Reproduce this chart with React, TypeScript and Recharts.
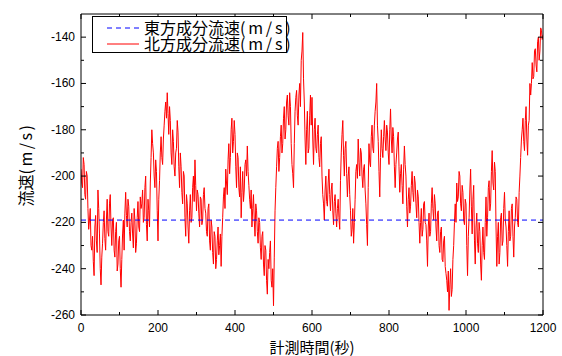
import React from 'react';
import { LineChart, Line, XAxis, YAxis, Legend } from 'recharts';

// Sampling interval of the read series (seconds)
const SAMPLE_INTERVAL = 4;

// 北方成分流速 (m/s), read at t = 0, 4, 8, ... 1200 s
const NORTH_VALUES: number[] = [
  -197, -205, -195, -210, -200, -223, -214, -232, -237, -222, -228, -206, -225, -247, -229, -215, -232, -210, -226, -208, -230, -218, -235, -220, -238,
  -226, -248, -225, -232, -207, -222, -213, -228, -216, -231, -219, -229, -211, -224, -214, -206, -218, -200, -228, -215, -203, -180, -190, -205, -198,
  -228, -202, -183, -195, -178, -168, -164, -182, -176, -195, -185, -200, -188, -181, -205, -196, -212, -200, -226, -212, -229, -208, -218, -200, -193,
  -215, -208, -222, -210, -219, -205, -216, -226, -212, -232, -222, -238, -226, -236, -222, -230, -239, -218, -205, -197, -208, -186, -192, -175, -185,
  -182, -205, -192, -209, -218, -198, -206, -193, -187, -204, -214, -222, -208, -226, -215, -229, -220, -236, -224, -243, -232, -251, -240, -228, -248,
  -256, -215, -196, -185, -192, -178, -186, -170, -180, -165, -178, -170, -195, -205, -172, -163, -178, -160, -150, -138, -168, -195, -172, -188, -165,
  -166, -195, -175, -190, -178, -196, -183, -208, -219, -200, -213, -197, -215, -203, -221, -208, -222, -210, -223, -190, -176, -200, -185, -209, -196,
  -215, -223, -229, -210, -195, -184, -200, -190, -205, -195, -212, -230, -186, -196, -178, -190, -172, -160, -185, -209, -180, -192, -176, -189, -181,
  -195, -171, -190, -183, -205, -190, -181, -207, -195, -212, -187, -200, -222, -205, -213, -198, -211, -203, -218, -209, -229, -214, -223, -211, -221,
  -239, -216, -224, -205, -219, -212, -228, -215, -233, -222, -237, -226, -242, -250, -258, -240, -249, -230, -212, -203, -209, -200, -215, -207, -221,
  -212, -243, -218, -197, -225, -204, -238, -216, -233, -224, -245, -222, -236, -209, -218, -202, -212, -189, -206, -198, -239, -220, -233, -216, -228,
  -207, -222, -239, -215, -226, -212, -235, -218, -210, -222, -200, -184, -175, -189, -170, -191, -176, -165, -151, -157, -145, -155, -140, -146, -137, -139,
];

// 北方成分流速 (m/s), read at the in-between instants t = 2, 6, 10, ... 1198 s
const NORTH_MID_VALUES: number[] = [
  -203, -192, -208, -198, -214, -219, -230, -226, -243, -217, -233, -214, -240, -235, -220, -227, -219, -224, -212, -222, -219, -232, -224, -241, -228,
  -240, -236, -219, -216, -217, -210, -224, -220, -225, -214, -233, -218, -222, -209, -212, -220, -205, -221, -210, -222, -192, -186, -200, -193, -215,
  -210, -190, -192, -184, -172, -175, -173, -170, -190, -180, -196, -190, -176, -196, -190, -207, -198, -218, -208, -222, -215, -220, -205, -211, -204,
  -206, -216, -209, -221, -208, -214, -224, -214, -228, -219, -233, -224, -240, -228, -234, -225, -226, -209, -214, -203, -193, -199, -180, -190, -176,
  -196, -190, -205, -196, -207, -211, -195, -200, -198, -210, -206, -214, -219, -212, -224, -218, -231, -226, -238, -230, -245, -236, -233, -245, -240,
  -235, -205, -188, -198, -183, -190, -175, -184, -168, -174, -164, -186, -199, -186, -166, -174, -165, -170, -146, -158, -184, -180, -190, -174, -178,
  -184, -180, -188, -182, -192, -186, -200, -212, -206, -211, -203, -208, -206, -215, -211, -216, -214, -218, -202, -182, -191, -188, -199, -200, -208,
  -226, -214, -220, -198, -201, -194, -188, -200, -197, -206, -221, -205, -194, -183, -188, -178, -168, -178, -198, -192, -188, -183, -184, -178, -190,
  -180, -184, -179, -196, -195, -184, -196, -199, -204, -197, -195, -213, -210, -216, -204, -207, -200, -212, -206, -220, -220, -226, -212, -220, -228,
  -222, -226, -212, -214, -208, -222, -216, -230, -224, -236, -228, -239, -245, -241, -247, -252, -236, -220, -220, -211, -198, -212, -204, -219, -210,
  -230, -226, -206, -213, -210, -228, -222, -229, -220, -238, -230, -233, -220, -226, -205, -215, -198, -203, -194, -222, -226, -238, -218, -230, -214,
  -219, -230, -224, -228, -214, -226, -222, -209, -220, -207, -192, -180, -185, -176, -184, -178, -160, -160, -158, -146, -152, -142, -150, -136, -141,
];

// 東方成分流速 (m/s): constant level
const EAST_TIMES = [0, 1200];
const EAST_VALUES = [-219, -219];

const X_TICKS = [0, 100, 200, 300, 400, 500, 600, 700, 800, 900, 1000, 1100, 1200];
const X_LABEL_STEP = 200;
const Y_TICKS = [-260, -250, -240, -230, -220, -210, -200, -190, -180, -170, -160, -150, -140];
const Y_LABEL_STEP = 20;
const X_DOMAIN: [number, number] = [0, 1200];
const Y_DOMAIN: [number, number] = [-260, -130];

const SERIES_NAMES = ['東方成分流速', '北方成分流速'];
const UNIT = '(m/s)';
const X_TITLE = '計測時間(秒)';
const Y_TITLE = '流速';

const northData: { t: number; north: number }[] = [];
NORTH_VALUES.forEach((v, i) => {
  northData.push({ t: i * SAMPLE_INTERVAL, north: v });
  if (i < NORTH_MID_VALUES.length) {
    northData.push({ t: i * SAMPLE_INTERVAL + SAMPLE_INTERVAL / 2, north: NORTH_MID_VALUES[i] });
  }
});
const eastData = EAST_TIMES.map((t, i) => ({ t, east: EAST_VALUES[i] }));

const NUM_FONT = '"Liberation Sans", Arial, sans-serif';
const CJK_FONT = '"Noto Sans CJK JP", "Noto Sans CJK SC", sans-serif';

const BottomTick = (props: any) => {
  const { x, y, payload } = props;
  const major = payload.value % X_LABEL_STEP === 0;
  return (
    <g>
      <line x1={x} x2={x} y1={y} y2={y - (major ? 5 : 3)} stroke="#000" strokeWidth={1} />
      {major && (
        <text x={x} y={y + 17} textAnchor="middle" fontSize={12} fontFamily={NUM_FONT} fill="#000">
          {payload.value}
        </text>
      )}
    </g>
  );
};

const TopTick = (props: any) => {
  const { x, y, payload } = props;
  const major = payload.value % X_LABEL_STEP === 0;
  return <line x1={x} x2={x} y1={y} y2={y + (major ? 5 : 3)} stroke="#000" strokeWidth={1} />;
};

const LeftTick = (props: any) => {
  const { x, y, payload } = props;
  const major = payload.value % Y_LABEL_STEP === 0;
  return (
    <g>
      <line x1={x} x2={x + (major ? 5 : 3)} y1={y} y2={y} stroke="#000" strokeWidth={1} />
      {major && (
        <text x={x - 6} y={y + 4} textAnchor="end" fontSize={12} fontFamily={NUM_FONT} fill="#000">
          {payload.value}
        </text>
      )}
    </g>
  );
};

const RightTick = (props: any) => {
  const { x, y, payload } = props;
  const major = payload.value % Y_LABEL_STEP === 0;
  return <line x1={x} x2={x - (major ? 5 : 3)} y1={y} y2={y} stroke="#000" strokeWidth={1} />;
};

const XTitle = (props: any) => {
  const vb = props.viewBox || {};
  return (
    <text
      x={vb.x + vb.width / 2}
      y={346}
      textAnchor="middle"
      dominantBaseline="central"
      fontSize={15}
      fontFamily={CJK_FONT}
      fill="#000"
    >
      {X_TITLE}
    </text>
  );
};

const YTitle = (props: any) => {
  const vb = props.viewBox || {};
  const cx = 25;
  const cy = vb.y + vb.height / 2;
  return (
    <text
      x={cx}
      y={cy}
      transform={`rotate(-90 ${cx} ${cy})`}
      textAnchor="middle"
      dominantBaseline="central"
      fontSize={16}
      fontFamily={CJK_FONT}
      fill="#000"
    >
      {Y_TITLE}
      <tspan letterSpacing={2.5}>{UNIT}</tspan>
    </text>
  );
};

const LegendBox = () => {
  const rows = [
    { name: SERIES_NAMES[0], color: '#0000ff', dash: '5 4' },
    { name: SERIES_NAMES[1], color: '#ff0000', dash: undefined },
  ];
  return (
    <div
      style={{
        width: 195,
        height: 37,
        border: '1px solid #000',
        background: '#fff',
        boxSizing: 'border-box',
        position: 'relative',
        fontFamily: CJK_FONT,
        fontSize: 16,
        color: '#000',
      }}
    >
      {rows.map((r, i) => (
        <div
          key={r.name}
          style={{
            position: 'absolute',
            left: 0,
            top: i * 16 + 3,
            height: 15,
            display: 'flex',
            alignItems: 'center',
            whiteSpace: 'nowrap',
            lineHeight: '15px',
            overflow: 'visible',
          }}
        >
          <svg width={51} height={15} style={{ display: 'block' }}>
            <line x1={14} x2={46} y1={8} y2={8} stroke={r.color} strokeWidth={1} strokeDasharray={r.dash} />
          </svg>
          <span>
            {r.name}
            <span style={{ letterSpacing: '2.8px' }}>{UNIT}</span>
          </span>
        </div>
      ))}
    </div>
  );
};

export default function App() {
  return (
    <div style={{ position: 'absolute', left: 0, top: 0, background: '#fff' }}>
      <LineChart width={562} height={356} data={northData} margin={{ top: 0, right: 0, bottom: 0, left: 0 }}>
        <XAxis
          dataKey="t"
          type="number"
          domain={X_DOMAIN}
          allowDataOverflow
          ticks={X_TICKS}
          interval={0}
          height={41}
          tickSize={0}
          tickMargin={0}
          tickLine={false}
          tick={<BottomTick />}
          axisLine={{ stroke: '#000', strokeWidth: 1 }}
          label={<XTitle />}
        />
        <XAxis
          xAxisId="top"
          orientation="top"
          dataKey="t"
          type="number"
          domain={X_DOMAIN}
          allowDataOverflow
          ticks={X_TICKS}
          interval={0}
          height={14}
          tickSize={0}
          tickMargin={0}
          tickLine={false}
          tick={<TopTick />}
          axisLine={{ stroke: '#000', strokeWidth: 1 }}
        />
        <YAxis
          type="number"
          domain={Y_DOMAIN}
          allowDataOverflow
          ticks={Y_TICKS}
          interval={0}
          width={81}
          tickSize={0}
          tickMargin={0}
          tickLine={false}
          tick={<LeftTick />}
          axisLine={{ stroke: '#000', strokeWidth: 1 }}
          label={<YTitle />}
        />
        <YAxis
          yAxisId="right"
          orientation="right"
          type="number"
          domain={Y_DOMAIN}
          allowDataOverflow
          ticks={Y_TICKS}
          interval={0}
          width={19}
          tickSize={0}
          tickMargin={0}
          tickLine={false}
          tick={<RightTick />}
          axisLine={{ stroke: '#000', strokeWidth: 1 }}
        />
        <Legend
          layout="horizontal"
          verticalAlign="middle"
          align="center"
          wrapperStyle={{ left: 92, top: 16, width: 195, height: 37 }}
          content={() => <LegendBox />}
        />
        <Line
          data={northData}
          dataKey="north"
          name={SERIES_NAMES[1]}
          stroke="#ff0000"
          strokeWidth={1}
          dot={false}
          isAnimationActive={false}
        />
        <Line
          data={eastData}
          dataKey="east"
          name={SERIES_NAMES[0]}
          stroke="#0000ff"
          strokeWidth={1}
          strokeDasharray="5 4"
          dot={false}
          isAnimationActive={false}
        />
      </LineChart>
    </div>
  );
}
